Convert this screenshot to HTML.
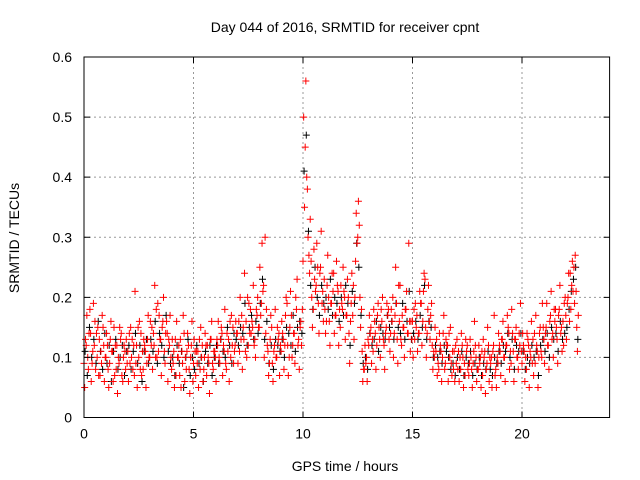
<!DOCTYPE html>
<html><head><meta charset="utf-8"><style>
body{margin:0;background:#fff;}
svg{display:block;font-family:"Liberation Sans",sans-serif;}
</style></head><body>
<svg id="chart" width="640" height="480">
<text x="345" y="32" text-anchor="middle" font-size="14">Day 044 of 2016, SRMTID for receiver cpnt</text>
<text x="345" y="471" text-anchor="middle" font-size="14">GPS time / hours</text>
<text transform="translate(19,238) rotate(-90)" text-anchor="middle" font-size="14">SRMTID / TECUs</text>
<g id="grid"></g><g id="marks"></g><g id="axes"></g>
</svg>
<script>
const xTicks=[0,5,10,15,20];
const yTicks=[0,0.1,0.2,0.3,0.4,0.5,0.6];
const yTickLabels=["0","0.1","0.2","0.3","0.4","0.5","0.6"];
const redA=[.09,.12,.08,.14,.11,.16,.10,.13,.09,.12,.10,.08,.13,.11,.07,.12,.09,.14,.10,.08,.11,.09,.13,.07,.12,.10,.14,.08,.11,.13,.10,.15,.12,.18,.11,.13,.16,.09,.14,.12,.08,.11,.07,.10,.13,.09,.06,.11,.08,.12,.09,.07,.11,.08,.12,.10,.07,.09,.13,.08,.10,.12,.09,.14,.11,.08,.13,.10,.15,.12,.14,.11,.17,.13,.16,.12,.18,.15,.13,.17,.15,.19,.22,.14,.11,.13,.09,.12,.10,.14,.11,.13,.17,.12,.15,.10,.14,.18,.13,.16,.26,.45,.38,.24,.20,.28,.22,.19,.25,.21,.18,.22,.16,.19,.24,.17,.21,.15,.18,.20,.17,.14,.19,.22,.26,.30,.20,.11,.08,.10,.12,.15,.11,.14,.17,.13,.16,.12,.15,.18,.14,.20,.17,.13,.16,.12,.15,.18,.14,.11,.16,.13,.17,.14,.19,.21,.15,.18,.13,.12,.10,.13,.08,.11,.14,.09,.12,.10,.07,.11,.09,.11,.08,.10,.07,.12,.09,.08,.11,.10,.08,.10,.07,.11,.09,.06,.10,.12,.08,.09,.11,.13,.10,.12,.14,.09,.11,.13,.10,.12,.09,.11,.08,.12,.10,.13,.09,.11,.14,.10,.13,.15,.12,.17,.14,.16,.13,.18,.15,.12,.17,.20,.24,.26,.19,.15];
const redB=[.05,.17,.14,.06,.19,.08,.15,.07,.17,.06,.14,.05,.16,.06,.12,.04,.15,.07,.12,.13,.06,.15,.08,.21,.05,.16,.07,.13,.05,.17,.16,.08,.22,.10,.17,.07,.20,.14,.06,.17,.13,.05,.16,.12,.05,.17,.10,.14,.04,.16,.13,.11,.05,.15,.06,.14,.12,.04,.16,.11,.06,.16,.13,.07,.18,.14,.06,.17,.09,.16,.09,.20,.08,.24,.10,.19,.14,.22,.10,.20,.25,.29,.10,.18,.07,.17,.06,.18,.15,.07,.16,.08,.20,.07,.21,.12,.09,.23,.08,.12,.50,.56,.30,.33,.15,.23,.29,.14,.31,.16,.14,.27,.12,.24,.14,.26,.12,.22,.25,.13,.23,.09,.24,.13,.34,.36,.15,.06,.12,.06,.17,.09,.18,.08,.19,.10,.20,.08,.19,.13,.18,.10,.25,.09,.22,.17,.10,.21,.29,.16,.10,.19,.11,.21,.12,.24,.10,.22,.17,.08,.15,.07,.14,.06,.17,.13,.06,.15,.11,.06,.13,.06,.14,.05,.13,.08,.13,.05,.16,.06,.12,.05,.13,.04,.15,.10,.05,.17,.05,.14,.07,.16,.06,.17,.08,.18,.06,.15,.08,.19,.14,.06,.14,.05,.16,.07,.17,.05,.15,.19,.09,.19,.08,.21,.10,.18,.09,.22,.11,.19,.13,.24,.18,.21,.27,.11];
const redC=[.13,.10,.18,.09,.12,.14,.07,.11,.15,.10,.12,.09,.11,.15,.08,.10,.13,.06,.11,.09,.14,.10,.12,.09,.15,.08,.11,.12,.09,.10,.12,.14,.10,.19,.13,.15,.11,.16,.13,.10,.09,.13,.10,.07,.11,.14,.08,.12,.10,.06,.11,.09,.13,.10,.08,.12,.10,.13,.09,.11,.13,.10,.15,.12,.09,.11,.16,.12,.11,.14,.16,.13,.15,.11,.20,.14,.16,.12,.18,.15,.17,.21,.30,.12,.09,.15,.11,.10,.13,.12,.14,.12,.19,.10,.17,.14,.20,.12,.15,.18,.35,.40,.27,.26,.18,.21,.25,.24,.19,.23,.16,.20,.19,.21,.17,.22,.18,.19,.21,.17,.20,.16,.17,.20,.29,.32,.18,.08,.09,.13,.14,.13,.16,.12,.15,.18,.13,.14,.17,.11,.16,.14,.19,.22,.13,.15,.18,.14,.16,.13,.18,.15,.14,.19,.16,.23,.14,.16,.19,.11,.11,.09,.12,.10,.08,.12,.14,.09,.08,.12,.08,.10,.12,.09,.11,.07,.10,.09,.12,.08,.09,.11,.10,.08,.12,.09,.11,.07,.10,.12,.13,.10,.12,.15,.11,.14,.13,.10,.14,.11,.12,.10,.13,.11,.09,.14,.12,.10,.11,.15,.14,.12,.16,.13,.18,.15,.17,.14,.16,.20,.19,.16,.22,.25,.21,.17];
const blackA=[.11,.07,.15,.10,.13,.09,.16,.11,.08,.14,.09,.12,.06,.11,.13,.08,.10,.12,.07,.11,.12,.08,.11,.14,.09,.12,.06,.11,.13,.09,.13,.11,.16,.09,.14,.12,.10,.17,.11,.09,.10,.07,.12,.09,.11,.05,.10,.13,.07,.10,.08,.12,.09,.10,.06,.11,.09,.12,.07,.10,.12,.09,.13,.11,.10,.15,.12,.09,.14,.13,.12,.15,.14,.19,.12,.15,.17,.13,.16,.14,.19,.23,.13,.16,.09,.12,.08,.13,.12,.11,.13,.10,.15,.14,.12,.17,.11,.15,.16,.14,.41,.47,.31,.22,.18,.25,.20,.17,.22,.19,.20,.18,.23,.17,.20,.19,.16,.20,.17,.22,.19,.12,.21,.19,.29,.25,.17,.09,.10,.08,.14,.12,.13,.16,.11,.15,.14,.13,.17,.15,.16,.13,.19,.15,.14,.19,.13,.16,.21,.13,.14,.16,.13,.17,.15,.22,.13,.16,.15,.10,.12,.10,.11,.09,.12,.11,.10,.08,.09,.07,.10,.08,.11,.07,.10,.09,.11,.07,.09,.08,.10,.07,.09,.08,.11,.08,.07,.10,.09,.11,.09,.12,.11,.14,.10,.13,.08,.12,.11,.14,.11,.08,.10,.09,.12,.10,.11,.07,.12,.13,.11,.14,.10,.15,.13,.14,.11,.16,.13,.14,.15,.18,.21,.23,.25,.13];
const sampleStep=0.1;
const L=84,R=609.6,T=57,B=417.5,XMAX=24,YMAX=0.6;
const xs=v=>L+(v/XMAX)*(R-L);
const ys=v=>B-(v/YMAX)*(B-T);
const NS="http://www.w3.org/2000/svg";
function mk(tag,attrs,parent){const e=document.createElementNS(NS,tag);for(const k in attrs)e.setAttribute(k,attrs[k]);parent.appendChild(e);return e;}
const grid=document.getElementById('grid'),marks=document.getElementById('marks'),axes=document.getElementById('axes');
xTicks.forEach((t,i)=>{
  if(t>0){const g=mk('line',{x1:xs(t),x2:xs(t),y1:T,y2:B,stroke:'#999','stroke-dasharray':'2,3'},grid);
  
  }
  const tk=mk('path',{d:`M${xs(t)},${B}v-6M${xs(t)},${T}v6`,stroke:'#000'},axes);
  
  
  const lb=mk('text',{x:xs(t),y:B+21,'text-anchor':'middle','font-size':14},axes);lb.textContent=String(t);
  
  
});
yTicks.forEach((t,i)=>{
  if(t>0&&t<YMAX){const g=mk('line',{x1:L,x2:R,y1:ys(t),y2:ys(t),stroke:'#999','stroke-dasharray':'2,3'},grid);
  
  }
  const tk=mk('path',{d:`M${L},${ys(t)}h6M${R},${ys(t)}h-6`,stroke:'#000'},axes);
  
  
  const lb=mk('text',{x:L-12,y:ys(t)+5,'text-anchor':'end','font-size':14},axes);lb.textContent=yTickLabels[i];
  
  
});
const fr=mk('rect',{x:L,y:T,width:R-L,height:B-T,fill:'none',stroke:'#000'},axes);


function plus(x,y,c,name){const p=mk('path',{d:`M${x-3.5},${y}h7M${x},${y-3.5}v7`,stroke:c,'stroke-width':1},marks);
  
  }
blackA.forEach((v,i)=>plus(xs(i*sampleStep+0.05),ys(v),'#000','black-point'));
redA.forEach((v,i)=>plus(xs(i*sampleStep),ys(v),'#f00','red-point'));
redB.forEach((v,i)=>plus(xs(i*sampleStep+0.03),ys(v),'#f00','red-point'));
redC.forEach((v,i)=>plus(xs(i*sampleStep+0.07),ys(v),'#f00','red-point'));
</script>
</body></html>
